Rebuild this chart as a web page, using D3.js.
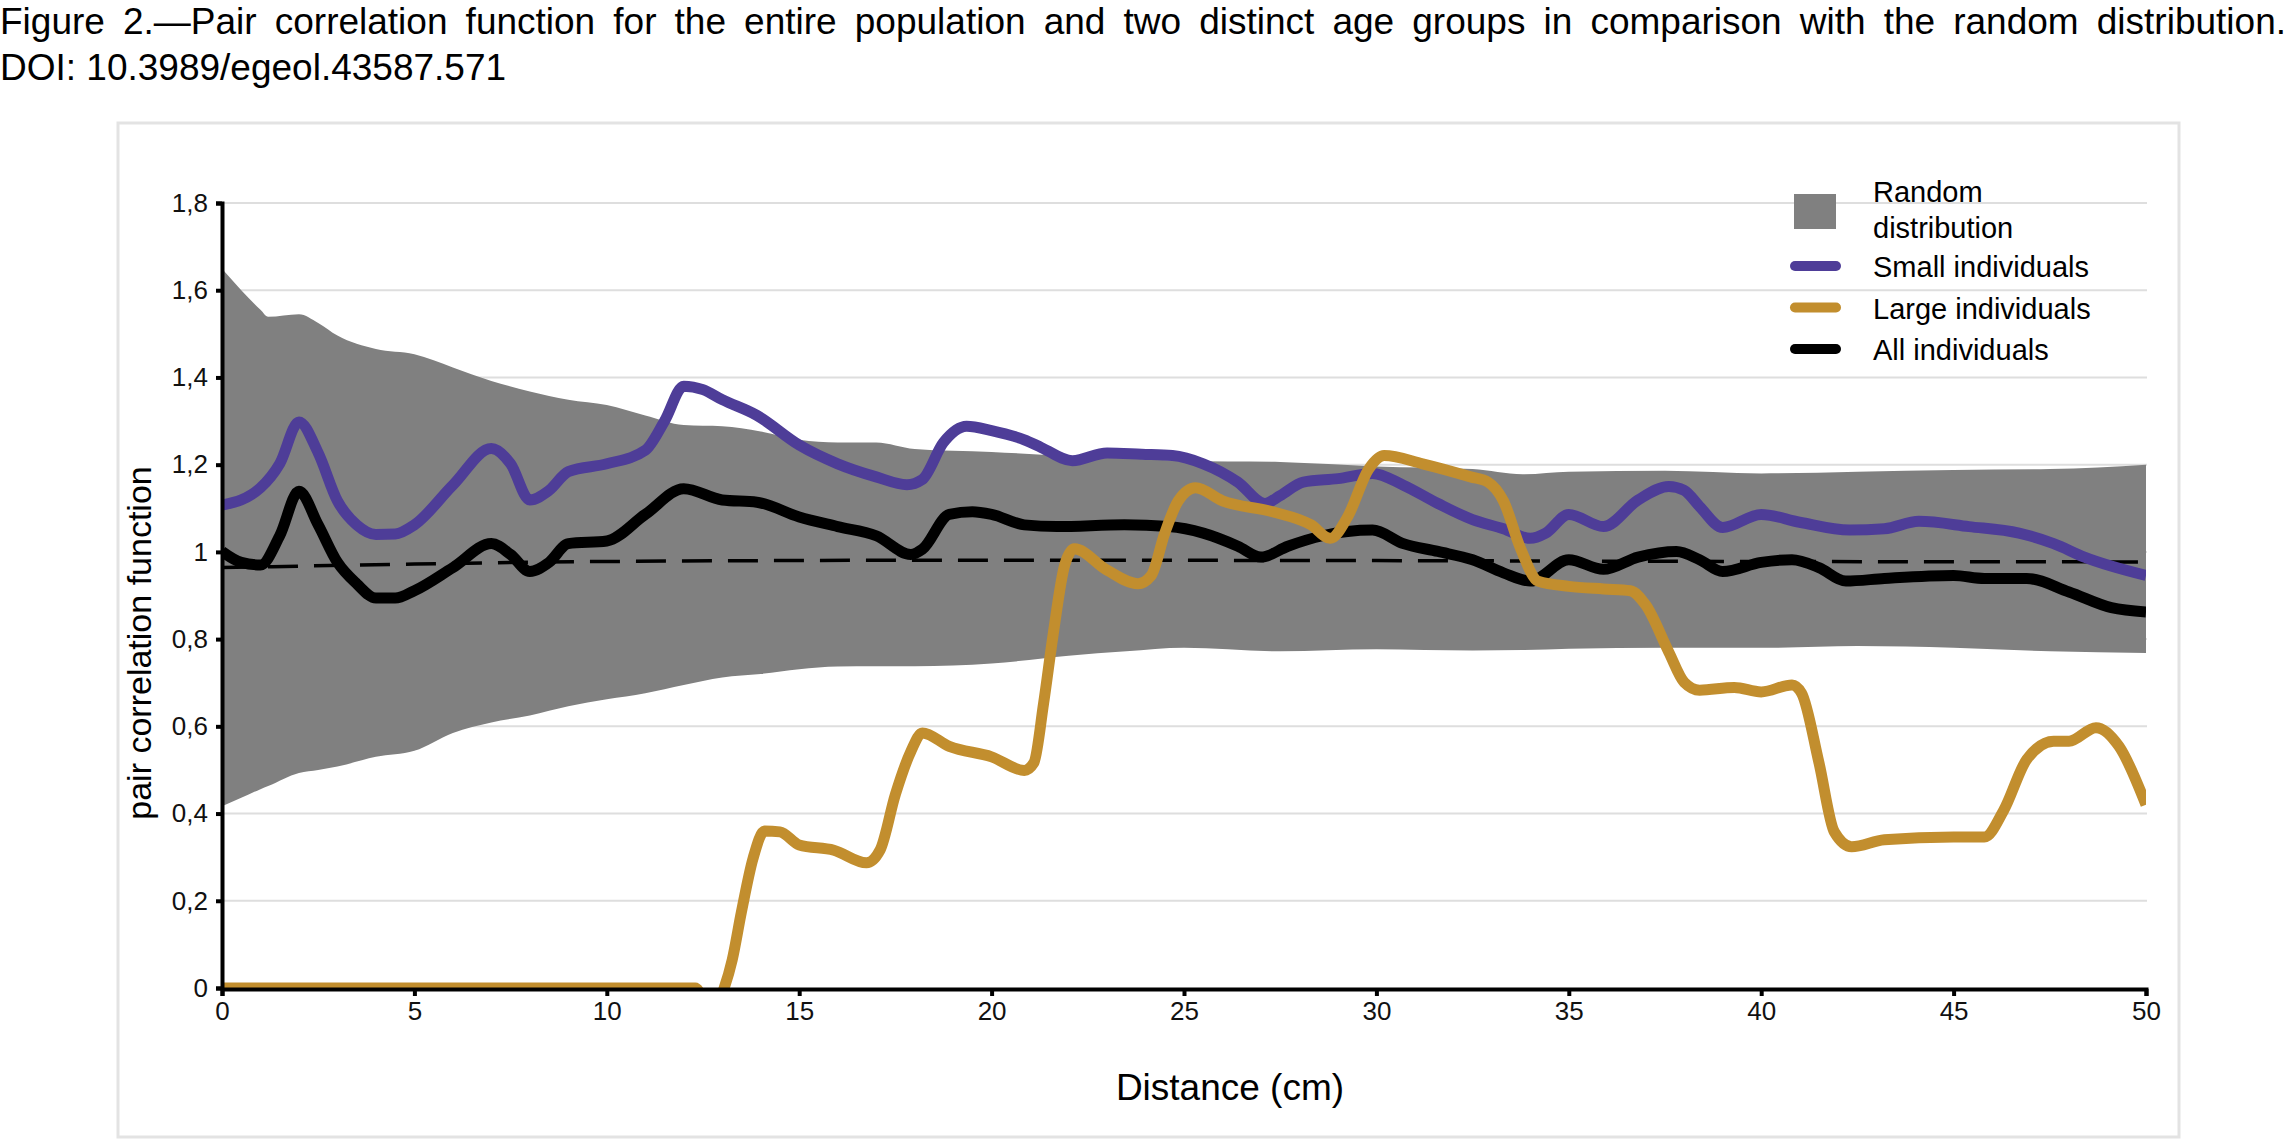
<!DOCTYPE html>
<html>
<head>
<meta charset="utf-8">
<script src="https://cdn.jsdelivr.net/npm/d3@7"></script>
<style>
  body { margin: 0; background: #fff; }
  text { font-family: "Liberation Sans", Arial, sans-serif; }
</style>
</head>
<body>
<svg id="vis"></svg>
<script>
const width = 2294;
const height = 1139;

// title
const titleLines = [
    'Figure 2.\u2014Pair correlation function for the entire population and two distinct age groups in comparison with the random distribution.',
    'DOI: 10.3989/egeol.43587.571'
];

// tick labels
const xTicks = [0, 5, 10, 15, 20, 25, 30, 35, 40, 45, 50];
const yTicks = [0, 0.2, 0.4, 0.6, 0.8, 1, 1.2, 1.4, 1.6, 1.8];

// random distribution envelope
const bandX = [0, 0.5, 1, 1.2, 2, 2.5, 3, 4, 5, 6, 7, 8, 9, 10, 11, 12, 13, 14, 15, 16, 17, 18, 20, 22, 23.5, 25, 27.5, 30, 32.5, 33.8, 35, 37.5, 40, 42.5, 45, 47.5, 50];
const bandUpper = [1.649, 1.60, 1.555, 1.539, 1.545, 1.525, 1.496, 1.465, 1.453, 1.423, 1.392, 1.368, 1.349, 1.337, 1.313, 1.291, 1.288, 1.276, 1.257, 1.251, 1.251, 1.236, 1.229, 1.22, 1.215, 1.209, 1.206, 1.196, 1.19, 1.178, 1.184, 1.186, 1.18, 1.184, 1.188, 1.19, 1.2];
const bandLower = [0.417, 0.436, 0.456, 0.463, 0.493, 0.50, 0.508, 0.530, 0.544, 0.585, 0.609, 0.625, 0.646, 0.662, 0.676, 0.695, 0.712, 0.72, 0.731, 0.737, 0.738, 0.738, 0.744, 0.762, 0.772, 0.78, 0.772, 0.777, 0.774, 0.775, 0.778, 0.78, 0.78, 0.784, 0.78, 0.772, 0.768];

// expected value under randomness (dashed)
const meanX = [0, 5, 10, 20, 30, 40, 50];
const meanY = [0.964, 0.972, 0.978, 0.981, 0.980, 0.978, 0.977];

// small individuals
const smallX = [0, 1, 1.5, 2, 2.5, 3, 3.5, 4, 4.5, 5, 6, 7, 7.5, 8, 8.5, 9, 10, 11, 11.5, 12, 12.5, 13, 13.9, 15, 16, 17, 17.8, 18.2, 18.75, 19.35, 20, 20.85, 21.3, 22.1, 23, 23.9, 24.7, 25.5, 26.4, 27.1, 27.5, 28.1, 29, 29.9, 30.7, 31.6, 32.5, 33.3, 34, 34.4, 35, 35.9, 36.8, 37.6, 38, 38.4, 39, 40, 41, 42.3, 43.2, 44.1, 45.4, 46.7, 47.6, 48.4, 50];
const smallY = [1.107, 1.147, 1.202, 1.298, 1.227, 1.117, 1.062, 1.040, 1.041, 1.062, 1.153, 1.237, 1.202, 1.119, 1.141, 1.184, 1.202, 1.233, 1.300, 1.380, 1.372, 1.349, 1.313, 1.245, 1.202, 1.172, 1.154, 1.166, 1.251, 1.288, 1.278, 1.257, 1.239, 1.209, 1.227, 1.224, 1.221, 1.202, 1.160, 1.111, 1.129, 1.160, 1.168, 1.180, 1.153, 1.111, 1.074, 1.053, 1.031, 1.043, 1.086, 1.058, 1.119, 1.150, 1.141, 1.104, 1.056, 1.086, 1.068, 1.050, 1.053, 1.070, 1.058, 1.043, 1.019, 0.988, 0.946];

// large individuals
const largeX = [0, 12.3, 12.7, 13.05, 13.26, 13.5, 13.8, 14.1, 14.5, 15, 15.9, 16.75, 17.1, 17.5, 17.9, 18.2, 18.9, 20, 20.85, 21.1, 21.35, 21.6, 21.9, 22.15, 23, 23.8, 24.15, 24.5, 24.85, 25.3, 26, 27.3, 28.3, 28.8, 29.25, 29.8, 30.2, 31.2, 32.45, 32.9, 33.3, 33.75, 34.2, 35, 35.9, 36.6, 37, 37.6, 38, 38.4, 39.3, 40, 40.8, 41.05, 41.5, 41.9, 42.35, 43.2, 45, 45.8, 46.3, 46.9, 47.6, 48, 48.7, 49.3, 50];
const largeY = [0, 0, -0.06, 0, 0.065, 0.175, 0.297, 0.36, 0.358, 0.328, 0.316, 0.287, 0.316, 0.444, 0.542, 0.585, 0.554, 0.530, 0.499, 0.517, 0.652, 0.811, 0.970, 1.007, 0.958, 0.927, 0.946, 1.043, 1.117, 1.147, 1.117, 1.092, 1.062, 1.031, 1.080, 1.190, 1.221, 1.202, 1.172, 1.160, 1.117, 1.007, 0.933, 0.921, 0.915, 0.911, 0.878, 0.77, 0.701, 0.683, 0.689, 0.679, 0.695, 0.676, 0.517, 0.358, 0.324, 0.340, 0.346, 0.346, 0.407, 0.524, 0.566, 0.566, 0.597, 0.554, 0.420];

// all individuals
const allX = [0, 0.5, 1, 1.5, 2, 2.5, 3, 3.5, 4, 4.5, 5, 6, 7, 7.5, 8, 8.5, 9, 10, 11, 12, 13, 13.9, 15, 16, 17, 17.9, 18.2, 18.9, 19.5, 20, 20.85, 21.7, 23.45, 24.6, 25.5, 26.4, 27, 27.7, 28.6, 29.9, 30.7, 31.6, 32.5, 33.3, 34, 35, 35.9, 36.8, 37.8, 38.4, 39, 40, 40.8, 41.5, 42.2, 43.2, 45, 45.8, 46.9, 48, 49.1, 50];
const allY = [1.001, 0.976, 0.970, 1.037, 1.139, 1.062, 0.976, 0.927, 0.894, 0.894, 0.911, 0.964, 1.019, 0.994, 0.955, 0.976, 1.019, 1.025, 1.086, 1.145, 1.119, 1.114, 1.080, 1.058, 1.037, 0.994, 1.006, 1.086, 1.092, 1.086, 1.062, 1.058, 1.062, 1.058, 1.043, 1.013, 0.988, 1.013, 1.037, 1.050, 1.019, 1.001, 0.982, 0.952, 0.933, 0.982, 0.960, 0.988, 1.001, 0.982, 0.955, 0.976, 0.982, 0.964, 0.933, 0.939, 0.946, 0.939, 0.939, 0.908, 0.872, 0.862];

const legendLabels = ['Small individuals', 'Large individuals', 'All individuals'];
const legendColors = ['#4e3d98', '#c28e2e', '#000000'];

const svg = d3.select('#vis')
    .attr('width', width)
    .attr('height', height);

const x = d3.scaleLinear().domain([0, 50]).range([222, 2146]);
const y = d3.scaleLinear().domain([0, 1.8]).range([988, 203]);

function zip(xs, ys) {
    return xs.map((v, i) => [v, ys[i]]);
}

function main() {
    drawTitle();
    drawFrame();
    drawData();
    drawAxes();
    drawLegend();
}

function drawTitle() {
    const t = svg.append('text')
        .attr('x', 0)
        .attr('y', 34)
        .style('font-size', '37px')
        .text(titleLines[0]);
    // justified first line, like the printed caption
    const natural = t.node().getComputedTextLength();
    const spaces = titleLines[0].split(' ').length - 1;
    const extra = (2286 - natural) / spaces;
    if (extra >= 0) {
        t.style('word-spacing', extra + 'px');
    } else {
        t.attr('textLength', 2286).attr('lengthAdjust', 'spacingAndGlyphs');
    }

    svg.append('text')
        .attr('x', 0)
        .attr('y', 80)
        .style('font-size', '37px')
        .text(titleLines[1]);
}

function drawFrame() {
    svg.append('rect')
        .attr('x', 118)
        .attr('y', 123)
        .attr('width', 2179 - 118)
        .attr('height', 1137 - 123)
        .attr('fill', 'none')
        .attr('stroke', '#e3e3e3')
        .attr('stroke-width', 3);

    svg.append('g')
        .selectAll('line')
        .data(yTicks.filter(d => d > 0))
        .join('line')
        .attr('x1', x(0))
        .attr('x2', x(50) + 1)
        .attr('y1', d => y(d))
        .attr('y2', d => y(d))
        .attr('stroke', '#dedede')
        .attr('stroke-width', 2);
}

function drawData() {
    svg.append('clipPath')
        .attr('id', 'plotclip')
        .append('rect')
        .attr('x', x(0))
        .attr('y', y(1.8) - 20)
        .attr('width', x(50) - x(0))
        .attr('height', y(0) - y(1.8) + 20);

    const g = svg.append('g').attr('clip-path', 'url(#plotclip)');

    const area = d3.area()
        .x(d => x(d[0]))
        .y0(d => y(d[2]))
        .y1(d => y(d[1]))
        .curve(d3.curveMonotoneX);

    g.append('path')
        .datum(bandX.map((v, i) => [v, bandUpper[i], bandLower[i]]))
        .attr('d', area)
        .attr('fill', '#808080');

    const line = d3.line()
        .x(d => x(d[0]))
        .y(d => y(d[1]))
        .curve(d3.curveMonotoneX);

    g.append('path')
        .datum(zip(meanX, meanY))
        .attr('d', line)
        .attr('fill', 'none')
        .attr('stroke', '#000')
        .attr('stroke-width', 3.5)
        .attr('stroke-dasharray', '30,16');

    const series = [
        [smallX, smallY, legendColors[0]],
        [allX, allY, legendColors[2]],
        [largeX, largeY, legendColors[1]]
    ];
    series.forEach(s => {
        g.append('path')
            .datum(zip(s[0], s[1]))
            .attr('d', line)
            .attr('fill', 'none')
            .attr('stroke', s[2])
            .attr('stroke-width', 11)
            .attr('stroke-linejoin', 'round');
    });
}

function drawAxes() {
    const fmt = d => String(+d.toFixed(1)).replace('.', ',');

    const yAxis = svg.append('g')
        .attr('transform', `translate(${x(0)},0)`)
        .call(d3.axisLeft(y).tickValues(yTicks).tickFormat(fmt).tickSize(6).tickPadding(8));
    yAxis.select('.domain').attr('stroke', '#000').attr('stroke-width', 4);
    yAxis.selectAll('.tick line').attr('stroke', '#000').attr('stroke-width', 4);
    yAxis.selectAll('.tick text')
        .style('font-size', '26px')
        .attr('fill', '#111');

    const xAxis = svg.append('g')
        .attr('transform', `translate(0,${y(0) + 1})`)
        .call(d3.axisBottom(x).tickValues(xTicks).tickSize(7).tickPadding(6));
    xAxis.select('.domain').attr('stroke', '#000').attr('stroke-width', 4);
    xAxis.selectAll('.tick line').attr('stroke', '#000').attr('stroke-width', 4);
    xAxis.selectAll('.tick text')
        .style('font-size', '26px')
        .attr('fill', '#111');

    svg.append('text')
        .attr('transform', 'translate(151,643) rotate(-90)')
        .attr('text-anchor', 'middle')
        .style('font-size', '34px')
        .text('pair correlation function');

    svg.append('text')
        .attr('x', 1230)
        .attr('y', 1100)
        .attr('text-anchor', 'middle')
        .style('font-size', '37px')
        .text('Distance (cm)');
}

function drawLegend() {
    const lg = svg.append('g');
    lg.append('rect')
        .attr('x', 1794)
        .attr('y', 194)
        .attr('width', 42)
        .attr('height', 35)
        .attr('fill', '#808080');
    lg.append('text')
        .attr('x', 1873)
        .attr('y', 202)
        .style('font-size', '29px')
        .text('Random');
    lg.append('text')
        .attr('x', 1873)
        .attr('y', 238)
        .style('font-size', '29px')
        .text('distribution');

    const rows = lg.selectAll('g.row')
        .data(legendLabels)
        .join('g')
        .attr('class', 'row')
        .attr('transform', (d, i) => `translate(0,${266 + i * 41.5})`);
    rows.append('line')
        .attr('x1', 1795)
        .attr('x2', 1836)
        .attr('stroke', (d, i) => legendColors[i])
        .attr('stroke-width', 10)
        .attr('stroke-linecap', 'round');
    rows.append('text')
        .attr('x', 1873)
        .attr('y', 11)
        .style('font-size', '29px')
        .text(d => d);
}

main();
</script>
</body>
</html>
